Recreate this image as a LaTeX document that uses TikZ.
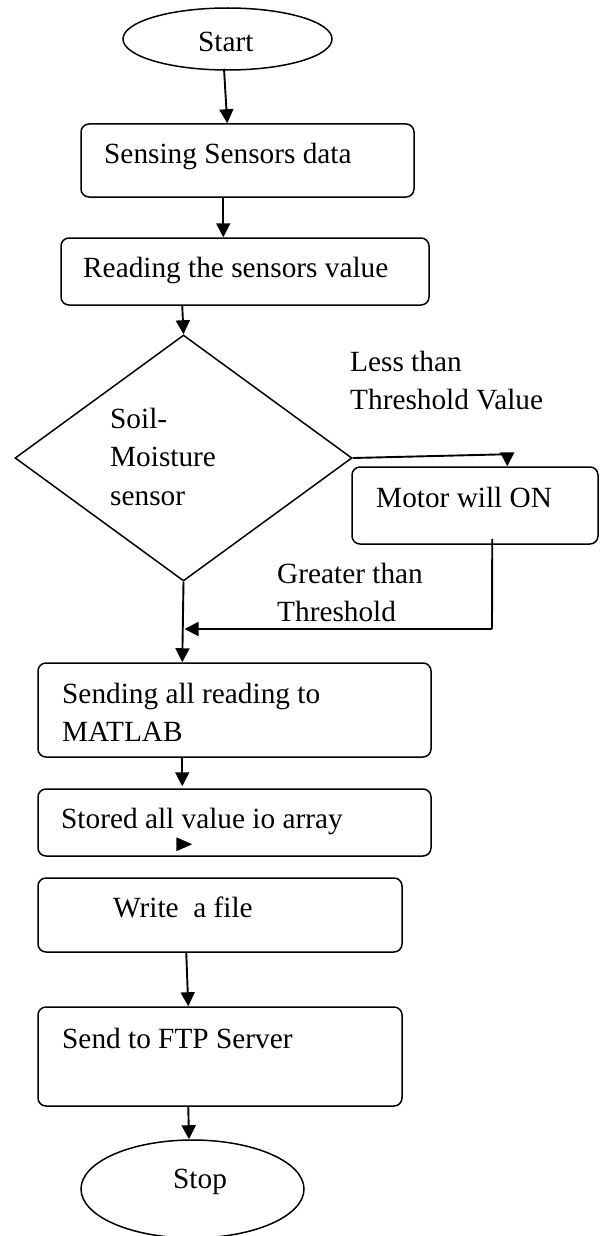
\documentclass[tikz,border=0pt]{standalone}
\usepackage{fontspec}
\setmainfont{Liberation Serif}
\usetikzlibrary{arrows.meta,shapes.geometric,calc}

\begin{document}
\begin{tikzpicture}[x=1pt,y=-1pt,
  shapeline/.style={draw=black, line width=1.5pt},
  box/.style={shapeline, rectangle, rounded corners=8pt, inner sep=0pt},
  oval/.style={shapeline, ellipse, inner sep=0pt},
  decision/.style={shapeline, diamond, inner sep=0pt},
  lbl/.style={anchor=base west, inner sep=0pt, font=\fontsize{29.3}{38.5}\selectfont},
  conn/.style={line width=1.9pt, -{Triangle[length=14pt,width=14pt]}},
  wire/.style={line width=1.9pt}
]
% page area
\fill[white] (0,0) rectangle (603,1236);
\useasboundingbox (0,0) rectangle (603,1236);

% ---- shapes ----
\node[oval, minimum width=209pt, minimum height=62pt] (start) at (227.5,39) {};
\node[box, minimum width=333pt, minimum height=73pt] (sense) at (247.5,160.5) {};
\node[box, minimum width=368pt, minimum height=67pt] (read) at (245,271.5) {};
\node[decision, minimum width=337pt, minimum height=246pt] (soil) at (183.5,458) {};
\node[box, minimum width=246pt, minimum height=77pt] (motor) at (475,505.5) {};
\node[box, minimum width=393pt, minimum height=94pt] (matlab) at (234.5,710) {};
\node[box, minimum width=393pt, minimum height=67pt] (store) at (234.5,822.5) {};
\node[box, minimum width=364pt, minimum height=74pt] (write) at (220,915) {};
\node[box, minimum width=364pt, minimum height=99pt] (ftp) at (220,1056.5) {};
\node[oval, minimum width=223pt, minimum height=98pt] (stop) at (192.5,1189) {};

% ---- texts ----
\node[lbl] (tstart) at (198,52) {Start};
\node[lbl] (tsense) at (104,163) {Sensing Sensors data};
\node[lbl] (tread) at (83,277) {Reading the sensors value};
\node[lbl] (tsoila) at (110,428) {Soil-};
\node[lbl] (tsoilb) at (110,466.5) {Moisture};
\node[lbl] (tsoilc) at (110,505) {sensor};
\node[lbl] (tlessa) at (350,371) {Less than};
\node[lbl] (tlessb) at (350,409.5) {Threshold Value};
\node[lbl] (tmotor) at (376,507) {Motor will ON};
\node[lbl] (tgreata) at (277,583) {Greater than};
\node[lbl] (tgreatb) at (277,621.5) {Threshold};
\node[lbl] (tmatlaba) at (62,703) {Sending all reading to};
\node[lbl] (tmatlabb) at (62,741.5) {MATLAB};
\node[lbl] (tstore) at (61,828) {Stored all value io array};
\node[lbl] (twrite) at (113,917) {Write\ \ a file};
\node[lbl] (tftp) at (62,1048) {Send to FTP Server};
\node[lbl] (tstop) at (173,1188) {Stop};

% ---- connectors ----
\draw[conn] ($(start.south)+(-3.5,-2)$) -- ($(sense.north west)+(147,0)$);
\draw[conn] ($(sense.south west)+(143,0)$) -- ($(read.north west)+(163,0)$);
\draw[conn] ($(read.south west)+(122,0)$) -- (soil.north);

% less than threshold: to the motor
\coordinate (lessturn) at ($(motor.north west)+(156,-12)$);
\draw[conn] (soil.east) -- (lessturn) -- ($(motor.north west)+(156,0)$);

% greater than threshold: main line down to MATLAB
\draw[conn] (soil.south) -- ($(matlab.north west)+(145,0)$);

% return line from the motor
\coordinate (motorfoot) at ($(motor.south west)+(141,-6)$);
\coordinate (motorturn) at (492,629);
\coordinate (merge) at (184.5,629);
\draw[wire] (motorfoot) -- (motorturn);
\draw[conn] (motorturn) -- (merge);

\draw[conn] ($(matlab.south west)+(145,0)$) -- ($(store.north west)+(145,-2)$);
\fill ($(store.north west)+(139,49)$) -- ++(16,7) -- ++(-16,7) -- cycle;

\draw[conn] ($(write.south west)+(149,0)$) -- ($(ftp.north west)+(151,0)$);
\draw[conn] ($(ftp.south west)+(151,0)$) -- ($(stop.north)+(-3.5,0)$);
\end{tikzpicture}
\end{document}
